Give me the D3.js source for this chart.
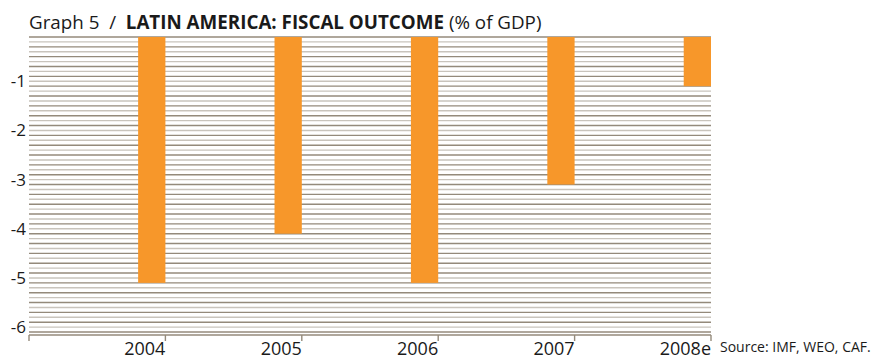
<!DOCTYPE html>
<html>
<head>
<meta charset="utf-8">
<script src="https://cdn.jsdelivr.net/npm/d3@7"></script>
<style>
  html, body { margin: 0; padding: 0; background: #fff; }
  svg { display: block; font-family: "Open Sans", "Noto Sans", sans-serif; }
</style>
</head>
<body>
<svg id="chart" width="876" height="360"></svg>
<script>
// Fiscal outcome, % of GDP
const years = ["2004", "2005", "2006", "2007", "2008e"];
const balance = [-5.0, -4.0, -5.0, -3.0, -1.0];
const yTicks = [-1, -2, -3, -4, -5, -6];
const titleParts = [
  { text: "Graph 5  /  ", bold: false },
  { text: "LATIN AMERICA: FISCAL OUTCOME", bold: true },
  { text: " (% of GDP)", bold: false }
];
const sourceNote = "Source: IMF, WEO, CAF.";

const svg = d3.select("#chart");
const plot = { left: 29, right: 711, top: 37, bottom: 335 };

const x = d3.scaleBand().domain(years).range([plot.left, plot.right]).padding(0);
const y = d3.scaleLinear().domain([0, -6.06]).range([plot.top, plot.bottom]);

// Fine horizontal rules every 0.1 point, alternating tone
const rules = d3.range(0, 61).map(k => -k / 10);
svg.append("g").selectAll("line").data(rules).join("line")
  .attr("x1", plot.left).attr("x2", plot.right)
  .attr("y1", d => y(d)).attr("y2", d => y(d))
  .attr("stroke", (d, i) => i % 2 === 0 ? "#948a7b" : "#c9c4bc")
  .attr("stroke-width", 1.4);

// Bars hang from zero, aligned to the right edge of each band
const barW = x.bandwidth() * 0.2;
svg.append("g").selectAll("rect").data(years).join("rect")
  .attr("x", d => x(d) + x.bandwidth() - barW)
  .attr("width", barW)
  .attr("y", y(0))
  .attr("height", (d, i) => y(balance[i]) - y(0))
  .attr("fill", "#f7972a");

// Y labels sit on their rule (plain hyphen as minus)
svg.append("g").selectAll("text").data(yTicks).join("text")
  .attr("x", 26).attr("y", d => y(d) + 1)
  .attr("text-anchor", "end")
  .attr("font-size", 17).attr("fill", "#1a1a1a")
  .text(d => String(d));

// X axis: baseline with ticks at band boundaries
const xAxis = svg.append("g");
xAxis.append("line")
  .attr("x1", plot.left).attr("x2", plot.right)
  .attr("y1", plot.bottom).attr("y2", plot.bottom)
  .attr("stroke", "#948a7b").attr("stroke-width", 1.4);
const tickXs = [plot.left].concat(years.map(d => x(d) + x.bandwidth()));
xAxis.selectAll("line.tick").data(tickXs).join("line")
  .attr("class", "tick")
  .attr("x1", d => d).attr("x2", d => d)
  .attr("y1", plot.bottom).attr("y2", plot.bottom + 6)
  .attr("stroke", "#948a7b").attr("stroke-width", 1.4);
xAxis.selectAll("text").data(years).join("text")
  .attr("x", d => x(d) + x.bandwidth())
  .attr("y", 355)
  .attr("text-anchor", "end")
  .attr("font-size", 18).attr("fill", "#1a1a1a")
  .text(d => d);

// Title
const title = svg.append("text").attr("x", 29).attr("y", 29)
  .attr("font-size", 18.8).attr("fill", "#1a1a1a")
  .attr("xml:space", "preserve");
title.selectAll("tspan").data(titleParts).join("tspan")
  .attr("font-weight", d => d.bold ? 700 : 400)
  .style("white-space", "pre")
  .text(d => d.text);

// Source note
svg.append("text").attr("x", 720).attr("y", 352)
  .attr("font-size", 14).attr("fill", "#1a1a1a")
  .text(sourceNote);
</script>
</body>
</html>
